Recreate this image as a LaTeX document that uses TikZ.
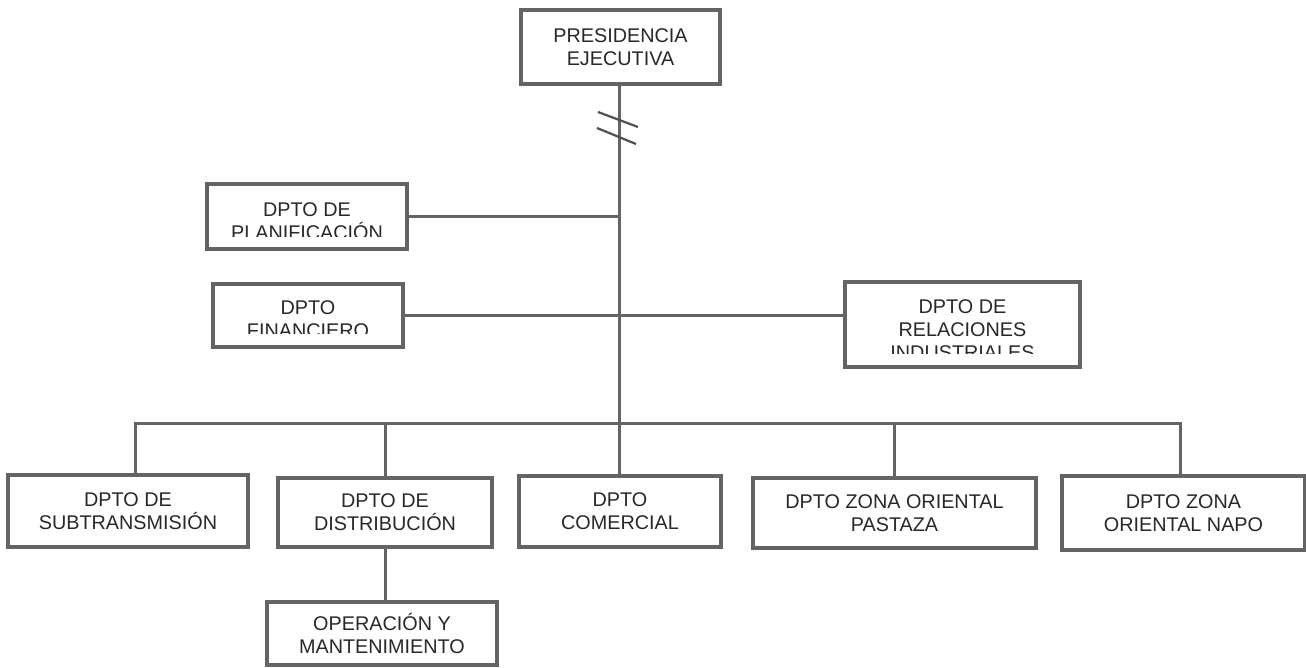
\documentclass[tikz,border=0pt]{standalone}
\usepackage{fontspec}
\setmainfont{Liberation Sans}
\definecolor{linec}{RGB}{100,100,100}
\definecolor{txtc}{RGB}{40,40,40}
\begin{document}
\begin{tikzpicture}[x=1pt,y=-1pt,
  box/.style={draw=linec, line width=3.2pt, fill=white, inner sep=0pt, align=center,
              font=\fontsize{19.8}{23}\selectfont, text=txtc},
  txt/.style={inner sep=0pt, align=center, font=\fontsize{19.8}{23}\selectfont, text=txtc},
  conn/.style={draw=linec, line width=3pt},
  brk/.style={draw=linec!80!black, line width=2.2pt}]
\useasboundingbox (0,0) rectangle (1306,668);
\fill[white] (0,0) rectangle (1306,668);

% boxes
\node[box, minimum width=199pt, minimum height=74pt] (pres) at (620.5,47) {PRESIDENCIA\\EJECUTIVA};
\node[box, minimum width=200pt, minimum height=65pt] (plan) at (307,216.5) {};
\node[box, minimum width=190pt, minimum height=63pt] (fin) at (308,315.5) {};
\node[box, minimum width=235pt, minimum height=85pt] (rel) at (962.5,324.5) {};
\node[box, minimum width=240pt, minimum height=72pt] (sub) at (128,511) {DPTO DE\\SUBTRANSMISIÓN};
\node[box, minimum width=214pt, minimum height=69pt] (dist) at (385,512.5) {DPTO DE\\DISTRIBUCIÓN};
\node[box, minimum width=202pt, minimum height=71pt] (com) at (620,511.5) {DPTO\\COMERCIAL};
\node[box, minimum width=283pt, minimum height=70pt] (pas) at (894.5,513) {DPTO ZONA ORIENTAL\\PASTAZA};
\node[box, minimum width=243pt, minimum height=74pt] (napo) at (1183.5,513) {DPTO ZONA\\ORIENTAL NAPO};
\node[box, minimum width=230pt, minimum height=63pt] (oper) at (382,633.5) {OPERACIÓN Y\\MANTENIMIENTO};

% clipped texts
\begin{scope}
  \clip (209,186) rectangle (405,237);
  \node[txt] (plant) at (307,221.5) {DPTO DE\\PLANIFICACIÓN};
\end{scope}
\begin{scope}
  \clip (215,286) rectangle (401,333);
  \node[txt] (fint) at (308,319.5) {DPTO\\FINANCIERO};
\end{scope}
\begin{scope}
  \clip (847,284) rectangle (1078,353);
  \node[txt] (relt) at (962.5,330) {DPTO DE\\RELACIONES\\INDUSTRIALES};
\end{scope}

% coordinates
\coordinate (spine) at (619.5,423);
\coordinate (busL) at (135,423);
\coordinate (busR) at (1180,423);
\coordinate (b1a) at (598,112);
\coordinate (b1b) at (638,127);
\coordinate (b2a) at (597,128);
\coordinate (b2b) at (636,144);

% connectors
\draw[conn] (pres.south -| spine) -- (spine);
\draw[conn] (plan.east) -- (plan.east -| spine);
\draw[conn] (fin.east) -- (fin.east -| rel.west);
\draw[conn, line cap=rect] (busL) -- (busR);
\draw[conn] (busL) -- (sub.north -| busL);
\draw[conn] (dist.north |- spine) -- (dist.north);
\draw[conn] (spine) -- (com.north -| spine);
\draw[conn] (pas.north |- spine) -- (pas.north);
\draw[conn] (busR) -- (napo.north -| busR);
\draw[conn] (dist.south) -- (dist.south |- oper.north);

% break mark
\draw[brk] (b1a) -- (b1b);
\draw[brk] (b2a) -- (b2b);
\end{tikzpicture}
\end{document}
